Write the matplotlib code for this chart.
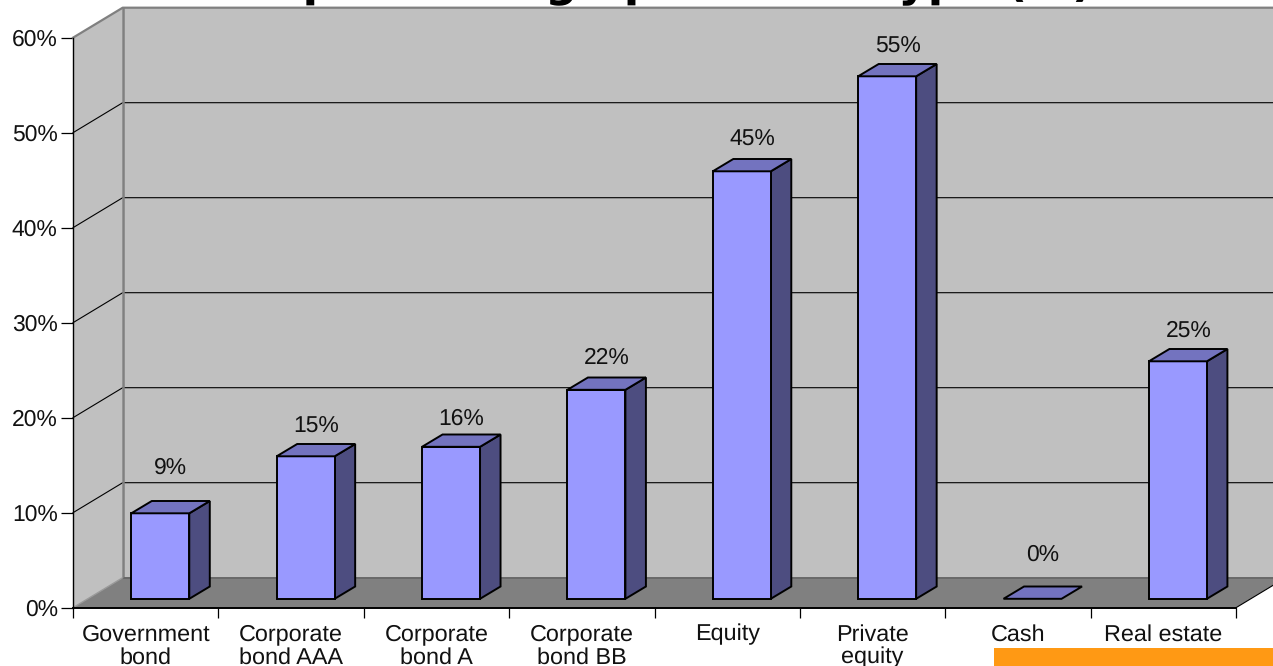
import matplotlib
matplotlib.use('Agg')
import matplotlib.pyplot as plt
from matplotlib.patches import Polygon, Rectangle

plt.rcParams['font.family'] = ['Liberation Sans', 'DejaVu Sans']
plt.rcParams['text.hinting'] = 'no_hinting'

categories = ['Government\nbond', 'Corporate\nbond AAA', 'Corporate\nbond A', 'Corporate\nbond BB',
              'Equity', 'Private\nequity', 'Cash', 'Real estate']
values = [9, 15, 16, 22, 45, 55, 0, 25]
value_labels = ['9%', '15%', '16%', '22%', '45%', '55%', '0%', '25%']
y_ticks = [0, 10, 20, 30, 40, 50, 60]
y_tick_labels = ['0%', '10%', '20%', '30%', '40%', '50%', '60%']
title = 'Capital charge per asset type (%)'

# label height above the bar top, in pixels
label_lift = [45, 29, 28, 32, 31, 29, 44, 30]

W, H = 1273, 666
fig = plt.figure(figsize=(W / 100, H / 100), dpi=100, facecolor='white')

# axes covers the front plane of the box
left, right, top, bottom = 73, 1236, 37.7, 607.7
ax = fig.add_axes([left / W, 1 - bottom / H, (right - left) / W, (bottom - top) / H])
ax.set_zorder(5)
ax.patch.set_visible(False)
ax.set_xlim(0, len(categories))
ax.set_ylim(0, 60)

# depth of the box in data units
px_x = (right - left) / len(categories)
px_y = (bottom - top) / 60
depth_x = 49.7 / px_x
depth_y = 30 / px_y

WALL = '#C0C0C0'
FLOOR = '#808080'
EDGE = '#808080'


def face(points, fc, ec='none', lw=0, z=1):
    ax.add_patch(Polygon(points, closed=True, fc=fc, ec=ec, lw=lw, zorder=z, clip_on=False, joinstyle='miter'))


n = len(categories)
ymax = y_ticks[-1]

# walls and floor
face([(depth_x, depth_y), (n + depth_x, depth_y), (n + depth_x, ymax + depth_y), (depth_x, ymax + depth_y)], WALL)
face([(0, 0), (depth_x, depth_y), (depth_x, ymax + depth_y), (0, ymax)], WALL)
face([(0, 0), (n, 0), (n + depth_x, depth_y), (depth_x, depth_y)], FLOOR)

# gridlines run along the left wall then the back wall
for v in y_ticks[1:-1]:
    ax.plot([0, depth_x, n + depth_x], [v, v + depth_y, v + depth_y], color='black', lw=0.8, zorder=2, clip_on=False)

ax.plot([0, depth_x, n + depth_x], [ymax, ymax + depth_y, ymax + depth_y], color=EDGE, lw=1.6, zorder=2, clip_on=False)
ax.plot([depth_x, depth_x], [depth_y, ymax + depth_y], color=EDGE, lw=1.8, zorder=2, clip_on=False)
ax.plot([depth_x, n + depth_x], [depth_y, depth_y], color='#696969', lw=1.4, zorder=2, clip_on=False)
ax.plot([0, depth_x], [0, depth_y], color='#9a9a9a', lw=1.0, zorder=2, clip_on=False)
ax.plot([n, n + depth_x], [0, depth_y], color='black', lw=0.8, zorder=2, clip_on=False)

# bars
bar_w = 58 / px_x
bar_dx = 20.5 / px_x
bar_dy = 12.3 / px_y
shift_x = 14.6 / px_x
shift_y = 8.9 / px_y
FRONT = '#9999FF'
SIDE = '#4D4D80'
TOP = '#7373BF'

for i, v in enumerate(values):
    x0 = i + 0.5 + shift_x - bar_w / 2
    x1 = x0 + bar_w
    y0 = shift_y
    y1 = shift_y + v
    if v > 0:
        face([(x1, y0), (x1 + bar_dx, y0 + bar_dy), (x1 + bar_dx, y1 + bar_dy), (x1, y1)], SIDE, 'black', 1.4, 3)
        face([(x0, y0), (x1, y0), (x1, y1), (x0, y1)], FRONT, 'black', 1.4, 3)
    face([(x0, y1), (x1, y1), (x1 + bar_dx, y1 + bar_dy), (x0 + bar_dx, y1 + bar_dy)], TOP, 'black', 1.4, 3)
    ax.annotate(value_labels[i], xy=((x0 + x1) / 2, y1), xytext=(10.5 * 0.72, label_lift[i] * 0.72),
                textcoords='offset points', ha='center', va='center', fontsize=16.5,
                color='#111111', annotation_clip=False, zorder=4)

# axis lines and ticks
for s in ['top', 'right']:
    ax.spines[s].set_visible(False)
ax.spines['left'].set_linewidth(1.0)
ax.spines['bottom'].set_linewidth(1.4)
ax.spines['left'].set_zorder(6)
ax.spines['bottom'].set_zorder(6)

ax.set_yticks(y_ticks, y_tick_labels)
ax.tick_params(axis='y', length=9, width=0.9, pad=2, labelsize=16.5, labelcolor='#111111')
ax.yaxis.get_major_ticks()[-1].tick1line.set_color(EDGE)

ax.set_xticks(range(n + 1))
ax.set_xticklabels([])
ax.tick_params(axis='x', which='major', length=7.5, width=0.9)
ax.set_xticks([i + 0.5 for i in range(n)], categories, minor=True)
ax.tick_params(axis='x', which='minor', length=0, pad=11.5, labelsize=16.8, labelcolor='#111111')
for lab in ax.get_xticklabels(minor=True):
    lab.set_linespacing(1.1)

# title runs off the top edge and sits behind the box
fig.text(665.5 / W, 1 + 4.6 / H, title, ha='center', va='baseline', fontsize=32.5, fontweight='bold',
         family='DejaVu Sans', color='black')

# orange strip along the lower edge
fig.patches.append(Rectangle((994 / W, 0), (W - 994) / W, (H - 647.7) / H, transform=fig.transFigure,
                             fc='#FF9914', ec='none', figure=fig))

fig.savefig('out.png', dpi=100)
